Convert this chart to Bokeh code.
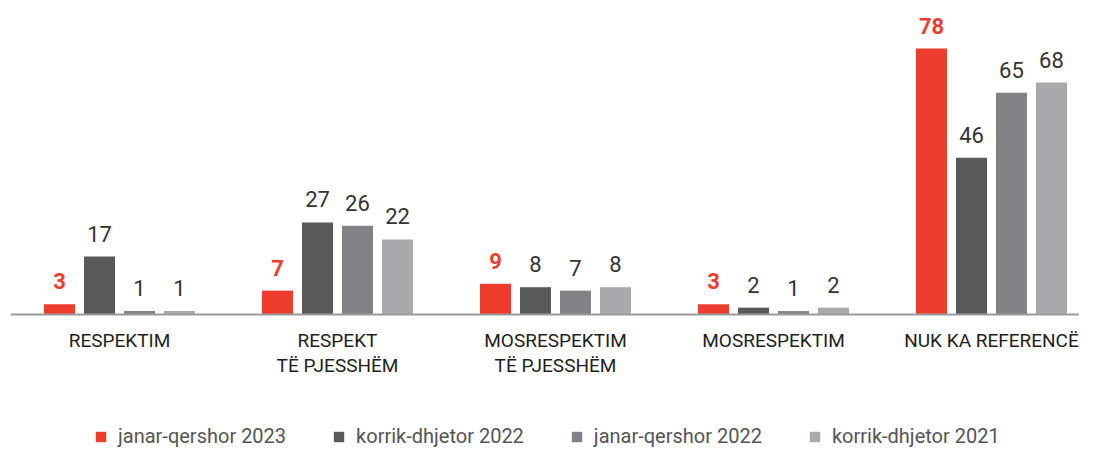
from bokeh.plotting import figure
from bokeh.models import Span, Legend, LegendItem, Range1d, ColumnDataSource
from bokeh.core.properties import value
from bokeh.embed import file_html
from bokeh.resources import INLINE

categories = ["RESPEKTIM", "RESPEKT\nTË PJESSHËM", "MOSRESPEKTIM\nTË PJESSHËM",
              "MOSRESPEKTIM", "NUK KA REFERENCË"]
series_names = ["janar-qershor 2023", "korrik-dhjetor 2022",
                "janar-qershor 2022", "korrik-dhjetor 2021"]
jan_jun_2023 = [3, 7, 9, 3, 78]
jul_dec_2022 = [17, 27, 8, 2, 46]
jan_jun_2022 = [1, 26, 7, 1, 65]
jul_dec_2021 = [1, 22, 8, 2, 68]
series_values = [jan_jun_2023, jul_dec_2022, jan_jun_2022, jul_dec_2021]
colors = ["#EE3D2F", "#58595B", "#808285", "#A7A9AC"]

FONT = "Roboto"
p = figure(width=1079, height=451, output_backend="svg", toolbar_location=None,
           x_range=Range1d(-0.5, 4.4037), y_range=Range1d(-40.18, 92.08),
           min_border=0, min_border_left=10, min_border_right=0,
           min_border_top=0, min_border_bottom=0)
p.outline_line_color = None
p.xgrid.visible = False
p.ygrid.visible = False
p.xaxis.visible = False
p.yaxis.visible = False
p.background_fill_color = "white"

offsets = [-0.2752, -0.0917, 0.0917, 0.2752]
bar_w = 0.1422
renderers = []
for k, (name, vals, col) in enumerate(zip(series_names, series_values, colors)):
    src = ColumnDataSource(dict(x=[i + offsets[k] for i in range(len(categories))],
                                top=vals, lab=[str(v) for v in vals]))
    r = p.vbar(x="x", top="top", width=bar_w, source=src, fill_color=col,
               line_color=None)
    renderers.append(r)
    p.text(x="x", y="top", text="lab", source=src, text_align="center",
           text_baseline="alphabetic", y_offset=-23,
           text_font=value(FONT), text_font_size="22px",
           text_font_style="bold" if k == 0 else "normal",
           text_color=col if k == 0 else "#333333")

p.add_layout(Span(location=0, dimension="width", line_color="#9a9a9a", line_width=2))

p.text(x=list(range(len(categories))), y=[0] * len(categories), text=categories,
       text_align="center", text_baseline="top", y_offset=15,
       text_font=value(FONT), text_font_size="19px", text_color="#231F20",
       text_line_height=1.05)

legend = Legend(items=[LegendItem(label=n, renderers=[r]) for n, r in zip(series_names, renderers)],
                orientation="horizontal", location=(84, 3),
                glyph_width=13, glyph_height=13, label_standoff=11, spacing=46,
                padding=0, margin=0, border_line_color=None,
                background_fill_alpha=0, label_text_font=FONT,
                label_text_font_size="20px", label_text_color="#555555")
p.add_layout(legend)

open("out.html", "w").write(file_html(p, INLINE))
